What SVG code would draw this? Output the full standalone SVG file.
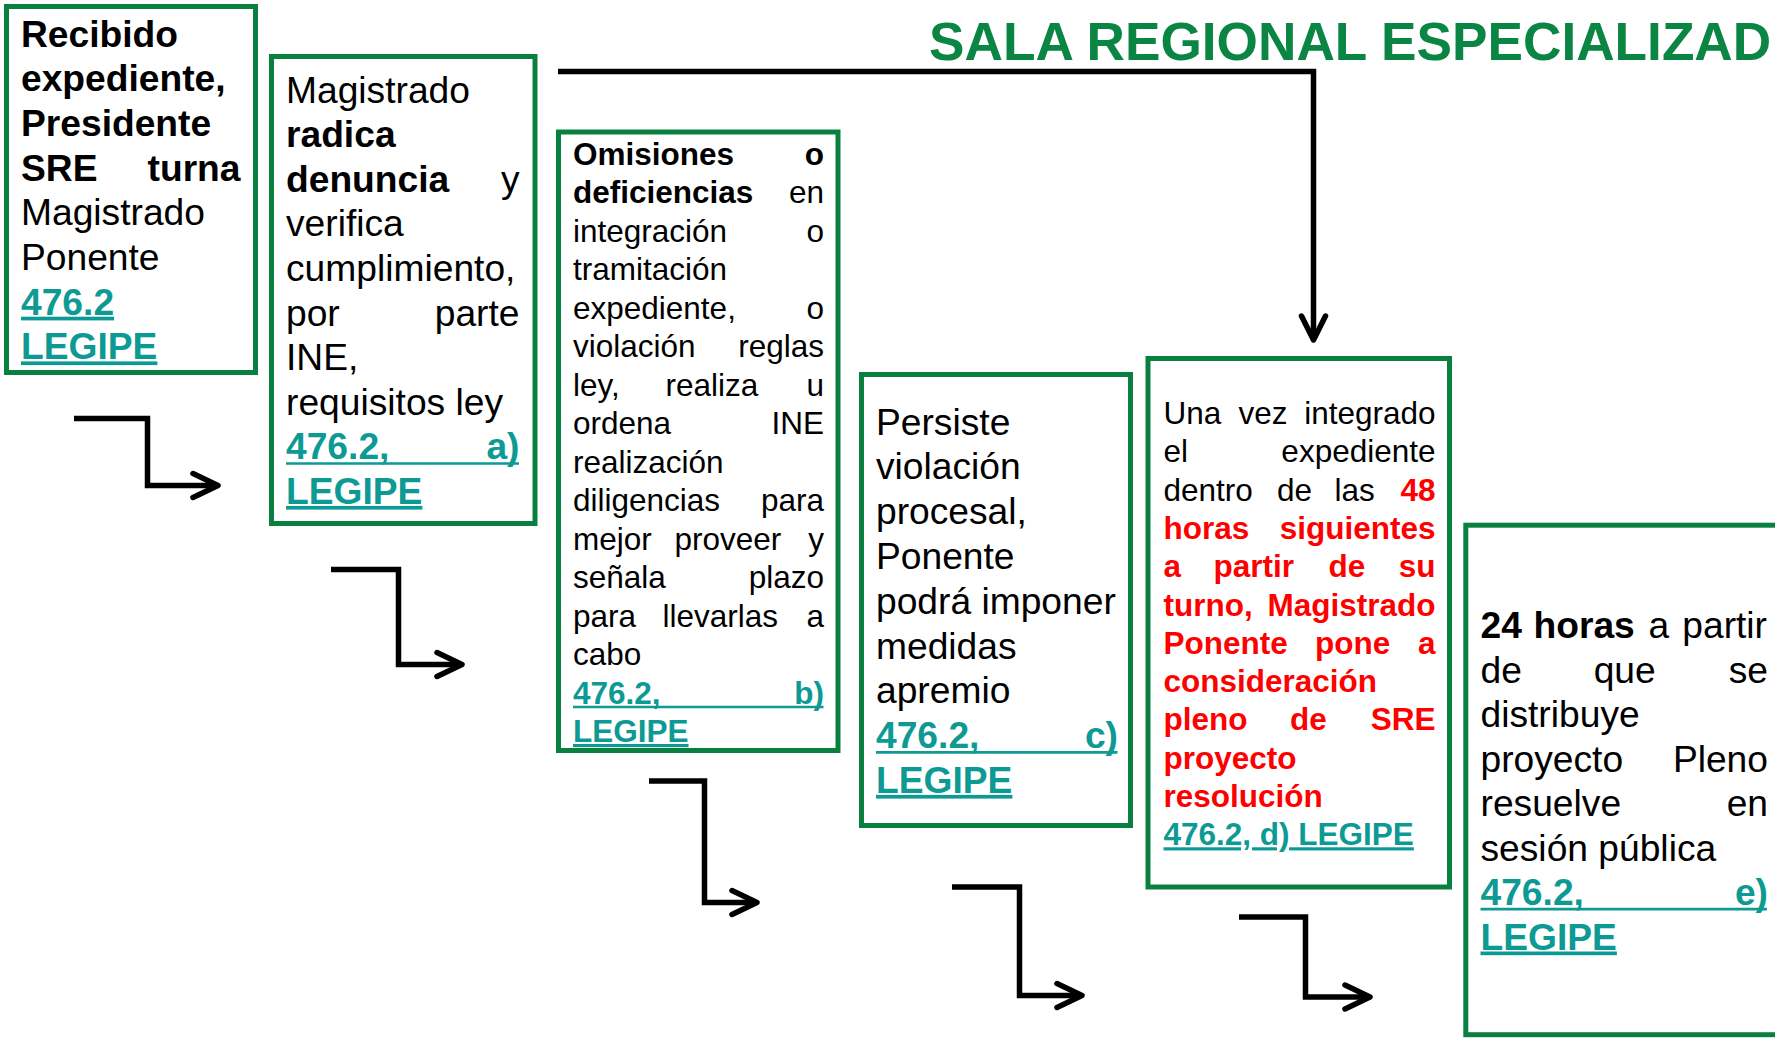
<svg xmlns="http://www.w3.org/2000/svg" width="1775" height="1038" viewBox="0 0 1775 1038">
<style>
text { font-family: "Liberation Sans", Arial, sans-serif; fill: #000; }
.L { font-size: 37.2px; }
.S { font-size: 31.5px; }
.b { font-weight: bold; }
.r { fill: #FF0000; font-weight: bold; }
.g { fill: #0E9A94; font-weight: bold; }
.u { text-decoration: underline; }
.e { text-anchor: end; }
.box { fill: #ffffff; stroke: #0A8040; stroke-width: 5; }
.ul { stroke: #0E9A94; stroke-width: 2.7; }
.ulS { stroke: #0E9A94; stroke-width: 2.3; }
.conn { fill: none; stroke: #000; stroke-width: 5.5; stroke-linejoin: miter; }
.head { fill: none; stroke: #000; stroke-width: 5.5; stroke-linecap: round; stroke-linejoin: round; }
.title { font-size: 53.2px; font-weight: bold; fill: #0A8543; }
</style>
<rect width="1775" height="1038" fill="#ffffff"/>

<text class="title" x="929" y="60">SALA REGIONAL ESPECIALIZAD</text>

<g id="connectors">
  <path class="conn" d="M558,71.5 H1313.5 V339"/>
  <path class="head" d="M1301.5,316 L1313.5,340 L1325.5,316"/>
  <path class="conn" d="M74,418.5 H147.5 V485.5 H216"/>
  <path class="head" d="M193,473.5 L218,485.5 L193,497.5"/>
  <path class="conn" d="M331,569.5 H398.5 V664.5 H460"/>
  <path class="head" d="M437,652.5 L462,664.5 L437,676.5"/>
  <path class="conn" d="M649,781 H704.5 V902.5 H755"/>
  <path class="head" d="M732,890.5 L757,902.5 L732,914.5"/>
  <path class="conn" d="M952,887 H1019.5 V995.5 H1080"/>
  <path class="head" d="M1057,983.5 L1082,995.5 L1057,1007.5"/>
  <path class="conn" d="M1239,917 H1305.5 V997 H1368"/>
  <path class="head" d="M1345,985 L1370,997 L1345,1009"/>
</g>

<g id="node1">
  <rect class="box" x="6.5" y="6.5" width="249" height="366"/>
  <text class="L b" x="21" y="46.5">Recibido</text>
  <text class="L b" x="21" y="91.2">expediente,</text>
  <text class="L b" x="21" y="135.9">Presidente</text>
  <text class="L b" x="21" y="180.6">SRE</text>
  <text class="L b e" x="240.5" y="180.6">turna</text>
  <text class="L" x="21" y="225.3">Magistrado</text>
  <text class="L" x="21" y="270">Ponente</text>
  <text class="L g u" x="21" y="314.7">476.2</text>
  <text class="L g u" x="21" y="359.4">LEGIPE</text>
</g>

<g id="node2">
  <rect class="box" x="271.5" y="56.5" width="263.5" height="467"/>
  <text class="L" x="286" y="102.5">Magistrado</text>
  <text class="L b" x="286" y="147.1">radica</text>
  <text class="L b" x="286" y="191.7">denuncia</text>
  <text class="L e" x="519.5" y="191.7">y</text>
  <text class="L" x="286" y="236.3">verifica</text>
  <text class="L" x="286" y="280.9">cumplimiento,</text>
  <text class="L" x="286" y="325.5">por</text>
  <text class="L e" x="519.5" y="325.5">parte</text>
  <text class="L" x="286" y="370.1">INE,</text>
  <text class="L" x="286" y="414.7">requisitos ley</text>
  <text class="L g" x="286" y="459.3">476.2,</text>
  <text class="L g e" x="519.5" y="459.3">a)</text>
  <line class="ul" x1="286" y1="463.5" x2="519" y2="463.5"/>
  <text class="L g u" x="286" y="503.9">LEGIPE</text>
</g>

<g id="node3">
  <rect class="box" x="558.5" y="132" width="279.5" height="618.5"/>
  <text class="S b" x="573" y="164.5">Omisiones</text>
  <text class="S b e" x="824" y="164.5">o</text>
  <text class="S b" x="573" y="203">deficiencias</text>
  <text class="S e" x="824" y="203">en</text>
  <text class="S" x="573" y="241.5">integración</text>
  <text class="S e" x="824" y="241.5">o</text>
  <text class="S" x="573" y="280">tramitación</text>
  <text class="S" x="573" y="318.5">expediente,</text>
  <text class="S e" x="824" y="318.5">o</text>
  <text class="S" x="573" y="357">violación</text>
  <text class="S e" x="824" y="357">reglas</text>
  <text class="S" x="573" y="395.5">ley,</text>
  <text class="S" x="665.5" y="395.5">realiza</text>
  <text class="S e" x="824" y="395.5">u</text>
  <text class="S" x="573" y="434">ordena</text>
  <text class="S e" x="824" y="434">INE</text>
  <text class="S" x="573" y="472.5">realización</text>
  <text class="S" x="573" y="511">diligencias</text>
  <text class="S e" x="824" y="511">para</text>
  <text class="S" x="573" y="549.5">mejor</text>
  <text class="S" x="674.5" y="549.5">proveer</text>
  <text class="S e" x="824" y="549.5">y</text>
  <text class="S" x="573" y="588">señala</text>
  <text class="S e" x="824" y="588">plazo</text>
  <text class="S" x="573" y="626.5">para</text>
  <text class="S" x="662.5" y="626.5">llevarlas</text>
  <text class="S e" x="824" y="626.5">a</text>
  <text class="S" x="573" y="665">cabo</text>
  <text class="S g" x="573" y="703.5">476.2,</text>
  <text class="S g e" x="824" y="703.5">b)</text>
  <line class="ulS" x1="573" y1="707" x2="823.5" y2="707"/>
  <text class="S g u" x="573" y="742">LEGIPE</text>
</g>

<g id="node4">
  <rect class="box" x="861.5" y="374.5" width="269" height="451"/>
  <text class="L" x="876" y="434.5">Persiste</text>
  <text class="L" x="876" y="479.3">violación</text>
  <text class="L" x="876" y="524.1">procesal,</text>
  <text class="L" x="876" y="568.9">Ponente</text>
  <text class="L" x="876" y="613.7">podrá imponer</text>
  <text class="L" x="876" y="658.5">medidas</text>
  <text class="L" x="876" y="703.3">apremio</text>
  <text class="L g" x="876" y="748.1">476.2,</text>
  <text class="L g e" x="1118" y="748.1">c)</text>
  <line class="ul" x1="876" y1="752.3" x2="1117.5" y2="752.3"/>
  <text class="L g u" x="876" y="792.9">LEGIPE</text>
</g>

<g id="node5">
  <rect class="box" x="1148" y="358.5" width="301.5" height="528.5"/>
  <text class="S" x="1163.5" y="424">Una</text>
  <text class="S" x="1238.5" y="424">vez</text>
  <text class="S e" x="1435.5" y="424">integrado</text>
  <text class="S" x="1163.5" y="462.3">el</text>
  <text class="S e" x="1435.5" y="462.3">expediente</text>
  <text class="S" x="1163.5" y="500.6">dentro</text>
  <text class="S" x="1277" y="500.6">de</text>
  <text class="S" x="1334.6" y="500.6">las</text>
  <text class="S r e" x="1435.5" y="500.6">48</text>
  <text class="S r" x="1163.5" y="538.9">horas</text>
  <text class="S r e" x="1435.5" y="538.9">siguientes</text>
  <text class="S r" x="1163.5" y="577.2">a</text>
  <text class="S r" x="1213.4" y="577.2">partir</text>
  <text class="S r" x="1328.5" y="577.2">de</text>
  <text class="S r e" x="1435.5" y="577.2">su</text>
  <text class="S r" x="1163.5" y="615.5">turno,</text>
  <text class="S r e" x="1435.5" y="615.5">Magistrado</text>
  <text class="S r" x="1163.5" y="653.8">Ponente</text>
  <text class="S r" x="1315" y="653.8">pone</text>
  <text class="S r e" x="1435.5" y="653.8">a</text>
  <text class="S r" x="1163.5" y="692.1">consideración</text>
  <text class="S r" x="1163.5" y="730.4">pleno</text>
  <text class="S r" x="1290" y="730.4">de</text>
  <text class="S r e" x="1435.5" y="730.4">SRE</text>
  <text class="S r" x="1163.5" y="768.7">proyecto</text>
  <text class="S r" x="1163.5" y="807">resolución</text>
  <text class="S g u" x="1163.5" y="845.3">476.2, d) LEGIPE</text>
</g>

<g id="node6">
  <rect class="box" x="1465.8" y="525.2" width="400" height="509.5"/>
  <text class="L b" x="1480.5" y="638">24</text>
  <text class="L b" x="1533.5" y="638">horas</text>
  <text class="L" x="1648.5" y="638">a</text>
  <text class="L e" x="1767" y="638">partir</text>
  <text class="L" x="1480.5" y="682.5">de</text>
  <text class="L" x="1593.7" y="682.5">que</text>
  <text class="L e" x="1768" y="682.5">se</text>
  <text class="L" x="1480.5" y="727">distribuye</text>
  <text class="L" x="1480.5" y="771.5">proyecto</text>
  <text class="L e" x="1768" y="771.5">Pleno</text>
  <text class="L" x="1480.5" y="816">resuelve</text>
  <text class="L e" x="1768" y="816">en</text>
  <text class="L" x="1480.5" y="860.5">sesión pública</text>
  <text class="L g" x="1480.5" y="905">476.2,</text>
  <text class="L g e" x="1768" y="905">e)</text>
  <line class="ul" x1="1480.5" y1="909.2" x2="1767" y2="909.2"/>
  <text class="L g u" x="1480.5" y="949.5">LEGIPE</text>
</g>
</svg>
